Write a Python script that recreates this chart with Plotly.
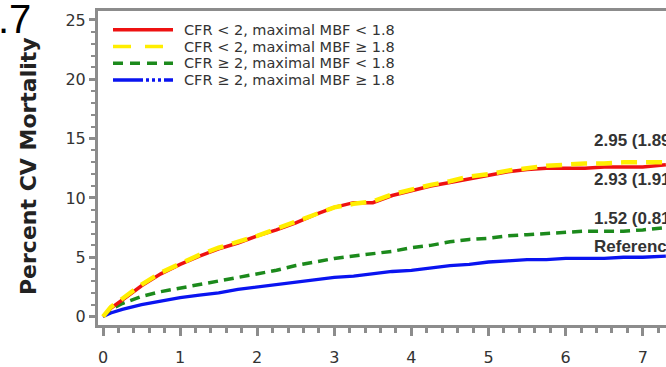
import plotly.graph_objects as go

# ---- data ----
years = [0, 0.1, 0.25, 0.5, 0.75, 1.0, 1.25, 1.5, 1.75, 2.0, 2.25, 2.5, 2.75, 3.0, 3.25, 3.5,
         3.75, 4.0, 4.25, 4.5, 4.75, 5.0, 5.25, 5.5, 5.75, 6.0, 6.25, 6.5, 6.75, 7.0, 7.3]
cfr_lo_mbf_lo = [0, 0.7, 1.4, 2.6, 3.6, 4.4, 5.1, 5.7, 6.2, 6.8, 7.3, 7.9, 8.6, 9.2, 9.6, 9.6,
                 10.2, 10.6, 11.0, 11.3, 11.6, 11.9, 12.2, 12.4, 12.5, 12.5, 12.5, 12.6, 12.6, 12.6, 12.8]
cfr_lo_mbf_hi = [0, 0.8, 1.5, 2.7, 3.7, 4.5, 5.2, 5.8, 6.3, 6.8, 7.4, 8.0, 8.7, 9.2, 9.5, 9.7,
                 10.3, 10.7, 11.1, 11.4, 11.8, 12.0, 12.3, 12.5, 12.7, 12.8, 12.9, 12.9, 13.0, 13.0, 13.0]
cfr_hi_mbf_lo = [0, 0.6, 1.1, 1.7, 2.1, 2.4, 2.7, 3.0, 3.3, 3.6, 3.9, 4.3, 4.6, 4.9, 5.1, 5.3,
                 5.5, 5.8, 6.0, 6.3, 6.5, 6.6, 6.8, 6.9, 7.0, 7.1, 7.2, 7.2, 7.2, 7.3, 7.5]
cfr_hi_mbf_hi = [0, 0.3, 0.6, 1.0, 1.3, 1.6, 1.8, 2.0, 2.3, 2.5, 2.7, 2.9, 3.1, 3.3, 3.4, 3.6,
                 3.8, 3.9, 4.1, 4.3, 4.4, 4.6, 4.7, 4.8, 4.8, 4.9, 4.9, 4.9, 5.0, 5.0, 5.1]

series_names = ["CFR < 2, maximal MBF < 1.8", "CFR < 2, maximal MBF \u2265 1.8",
                "CFR \u2265 2, maximal MBF < 1.8", "CFR \u2265 2, maximal MBF \u2265 1.8"]
end_labels = ["2.95 (1.89", "2.93 (1.91", "1.52 (0.81", "Reference"]
x_ticks = [0, 1, 2, 3, 4, 5, 6, 7]
y_ticks = [0, 5, 10, 15, 20, 25]
y_title = "Percent CV Mortality"
panel_label = ".7"

# ---- styling ----
W, H = 666, 367
L, R, T, B = 98, 0, 11, 38
PW, PH = W - L - R, H - T - B
AX = "#8c8c8c"
TXT = "#333333"

def px(x):
    return (x - L) / PW

def py(y):
    return (H - B - y) / PH

styles = [
    dict(color="#ee1111", width=3.5, dash="solid"),
    dict(color="#ffee00", width=4.5, dash="16px,9px"),
    dict(color="#1c8a1c", width=3.5, dash="10px,6px"),
    dict(color="#0a14f0", width=3.3, dash="solid"),
]
legend_dash = ["solid", "18px,14px", "10px,7px", "30px,3px,3px,3px,3px,3px,3px,3px"]

fig = go.Figure()
all_series = [cfr_lo_mbf_lo, cfr_lo_mbf_hi, cfr_hi_mbf_lo, cfr_hi_mbf_hi]
order = [3, 2, 0, 1]
for i in order:
    fig.add_trace(go.Scatter(x=years, y=all_series[i], mode="lines", name=series_names[i],
                             line=styles[i], showlegend=False, hoverinfo="skip"))

shapes = []
annotations = []
legend_rows = [30, 47, 64, 81]
for i, yrow in enumerate(legend_rows):
    shapes.append(dict(type="line", xref="paper", yref="paper",
                       x0=px(113), x1=px(173), y0=py(yrow), y1=py(yrow),
                       line=dict(color=styles[i]["color"], width=3.5, dash=legend_dash[i])))
    annotations.append(dict(xref="paper", yref="paper", x=px(182), y=py(yrow),
                            xanchor="left", yanchor="middle", showarrow=False,
                            text=series_names[i],
                            font=dict(family="DejaVu Sans", size=14.5, color=TXT)))

end_rows = [142, 182, 221, 249]
for lab, yrow in zip(end_labels, end_rows):
    annotations.append(dict(xref="paper", yref="paper", x=px(592), y=py(yrow),
                            xanchor="left", yanchor="middle", showarrow=False, text=lab,
                            font=dict(family="Liberation Sans", size=17, color=TXT, weight="bold")))

annotations.append(dict(xref="paper", yref="paper", x=px(-4), y=py(-5),
                        xanchor="left", yanchor="top", showarrow=False, text=panel_label,
                        font=dict(family="Liberation Sans", size=40, color="#000000")))

annotations.append(dict(xref="paper", yref="paper", x=px(28), y=py(168),
                        xanchor="center", yanchor="middle", showarrow=False, text=y_title,
                        textangle=-90,
                        font=dict(family="DejaVu Sans", size=22, color="#222222", weight="bold")))

fig.update_layout(
    width=W, height=H,
    margin=dict(l=L, r=R, t=T, b=B, pad=0),
    paper_bgcolor="white", plot_bgcolor="white",
    shapes=shapes, annotations=annotations,
    showlegend=False,
)
fig.update_xaxes(
    range=[-0.065, 7.302], tickvals=x_ticks, ticktext=[str(v) for v in x_ticks],
    showgrid=False, zeroline=False,
    showline=True, linecolor=AX, linewidth=3, mirror=True,
    ticks="outside", ticklen=8, tickwidth=2.5, tickcolor=AX,
    minor=dict(dtick=0.2, tick0=0, ticks="outside", ticklen=5, tickwidth=2.5, tickcolor=AX),
    tickfont=dict(family="DejaVu Sans", size=16, color=TXT),
    ticklabelstandoff=8,
)
fig.update_yaxes(
    range=[-0.71, 25.75], tickvals=y_ticks, ticktext=[str(v) for v in y_ticks],
    showgrid=False, zeroline=False,
    showline=True, linecolor=AX, linewidth=3,
    ticks="outside", ticklen=6, tickwidth=2.5, tickcolor=AX,
    minor=dict(dtick=1, tick0=0, ticks="outside", ticklen=4, tickwidth=2, tickcolor=AX),
    tickfont=dict(family="DejaVu Sans", size=16, color=TXT),
)

fig.write_html("out.html", config={"displayModeBar": False},
               post_script="document.body.style.margin='0px';")
